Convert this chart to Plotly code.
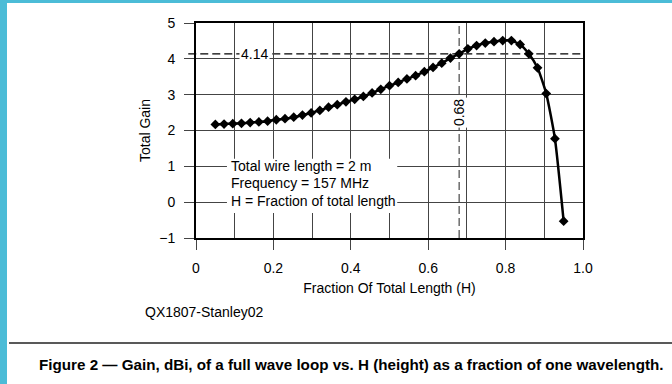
import plotly.graph_objects as go

# ---- data ----
h_fraction = [0.05, 0.0725, 0.095, 0.1175, 0.14, 0.1625, 0.185, 0.2075, 0.23, 0.2525,
              0.275, 0.2975, 0.32, 0.3425, 0.365, 0.3875, 0.41, 0.4325, 0.455, 0.4775,
              0.5, 0.5225, 0.545, 0.5675, 0.59, 0.6125, 0.635, 0.6575, 0.68, 0.7025,
              0.725, 0.7475, 0.77, 0.7925, 0.815, 0.8375, 0.86, 0.8825, 0.905, 0.9275, 0.95]
total_gain = [2.17, 2.18, 2.19, 2.20, 2.22, 2.24, 2.26, 2.30, 2.33, 2.37,
              2.43, 2.49, 2.56, 2.65, 2.72, 2.80, 2.87, 2.95, 3.05, 3.15,
              3.25, 3.34, 3.44, 3.53, 3.64, 3.76, 3.88, 4.02, 4.14, 4.28,
              4.37, 4.44, 4.48, 4.51, 4.51, 4.40, 4.14, 3.75, 3.03, 1.77, -0.53]

x_tickvals = [0, 0.2, 0.4, 0.6, 0.8, 1.0]
x_ticktext = ["0", "0.2", "0.4", "0.6", "0.8", "1.0"]
y_tickvals = [-1, 0, 1, 2, 3, 4, 5]
y_ticktext = ["\u22121", "0", "1", "2", "3", "4", "5"]

ref_h = 0.68
ref_gain = 4.14
note_lines = ["Total wire length = 2 m", "Frequency = 157 MHz", "H = Fraction of total length"]
note_y = [1.0, 0.53, 0.03]

FONT = "Liberation Sans, Arial, Helvetica, sans-serif"
GRID = "#444444"
CYAN = "#4BBCD7"

fig = go.Figure()
fig.add_trace(go.Scatter(
    x=h_fraction, y=total_gain, mode="lines+markers",
    line=dict(color="black", width=2.5, shape="spline", smoothing=0.5),
    marker=dict(symbol="diamond", size=7.5, color="black"),
    showlegend=False, hoverinfo="skip"))

L, R, T, B = 196, 89, 23, 146
W, H = 672, 384
pw = W - L - R
ph = H - T - B

def px_x(p):
    return (p - L) / pw

def px_y(p):
    return (H - B - p) / ph

shapes = [
    dict(type="rect", xref="x", yref="y", x0=0.08, x1=0.52, y0=-0.3, y1=1.21,
         fillcolor="white", line=dict(width=0), layer="between"),
    dict(type="line", xref="paper", yref="y", x0=-0.02, x1=1.0, y0=ref_gain, y1=ref_gain,
         line=dict(color="black", width=1.3, dash="8px,4px"), layer="between"),
    dict(type="line", xref="x", yref="y", x0=ref_h, x1=ref_h, y0=-1, y1=5,
         line=dict(color="#555555", width=1.3, dash="8px,4px"), layer="between"),
    dict(type="line", xref="paper", yref="paper", x0=px_x(9), x1=px_x(672),
         y0=px_y(343), y1=px_y(343), line=dict(color="#222222", width=1.5)),
    dict(type="rect", xref="paper", yref="paper", x0=px_x(0), x1=px_x(7),
         y0=px_y(384), y1=px_y(0), fillcolor=CYAN, line=dict(width=0)),
    dict(type="rect", xref="paper", yref="paper", x0=px_x(0), x1=px_x(672),
         y0=px_y(3), y1=px_y(0), fillcolor=CYAN, line=dict(width=0)),
]

annotations = [
    dict(x=0.152, y=ref_gain, xref="x", yref="y", text="4.14", showarrow=False,
         font=dict(family=FONT, size=14, color="black"), bgcolor="white", borderpad=1),
    dict(x=ref_h, y=2.49, xref="x", yref="y", text="0.68", showarrow=False, textangle=-90,
         font=dict(family=FONT, size=14, color="black"), bgcolor="white", borderpad=1),
    dict(x=px_x(143), y=px_y(312), xref="paper", yref="paper", text="QX1807-Stanley02",
         showarrow=False, xanchor="left", yanchor="middle",
         font=dict(family=FONT, size=14, color="black")),
    dict(x=px_x(351), y=px_y(364), xref="paper", yref="paper",
         text="<b>Figure 2 \u2014 Gain, dBi, of a full wave loop vs. H (height) as a fraction of one wavelength.</b>",
         showarrow=False, xanchor="center", yanchor="middle",
         font=dict(family=FONT, size=15.2, color="black")),
]
for txt, yy in zip(note_lines, note_y):
    annotations.append(dict(x=0.084, y=yy, xref="x", yref="y", text=txt, showarrow=False,
                            xanchor="left", yanchor="middle",
                            font=dict(family=FONT, size=14, color="black")))

fig.update_layout(
    width=W, height=H,
    margin=dict(l=L, r=R, t=T, b=B),
    paper_bgcolor="white", plot_bgcolor="white",
    shapes=shapes, annotations=annotations,
    xaxis=dict(range=[0, 1], tickvals=x_tickvals, ticktext=x_ticktext,
               showgrid=True, gridcolor=GRID, gridwidth=1,
               minor=dict(dtick=0.1, tick0=0, showgrid=True, gridcolor=GRID, gridwidth=1, ticks=""),
               ticks="outside", ticklen=10, tickcolor=GRID, tickwidth=1,
               ticklabelstandoff=6,
               showline=True, linecolor="black", linewidth=2, mirror=True,
               zeroline=False,
               tickfont=dict(family=FONT, size=14, color="black"),
               title=dict(text="Fraction Of Total Length (H)", standoff=8,
                          font=dict(family=FONT, size=14, color="black"))),
    yaxis=dict(range=[-1, 5], tickvals=y_tickvals, ticktext=y_ticktext,
               showgrid=True, gridcolor=GRID, gridwidth=1,
               ticks="outside", ticklen=10, tickcolor=GRID, tickwidth=1,
               ticklabelstandoff=6,
               showline=True, linecolor="black", linewidth=2, mirror=True,
               zeroline=False,
               tickfont=dict(family=FONT, size=14, color="black"),
               title=dict(text="Total Gain", standoff=5,
                          font=dict(family=FONT, size=14, color="black"))),
)

fig.write_html("out.html",
               config={"displayModeBar": False},
               post_script="document.body.style.margin='0px';document.body.style.overflow='hidden';")
